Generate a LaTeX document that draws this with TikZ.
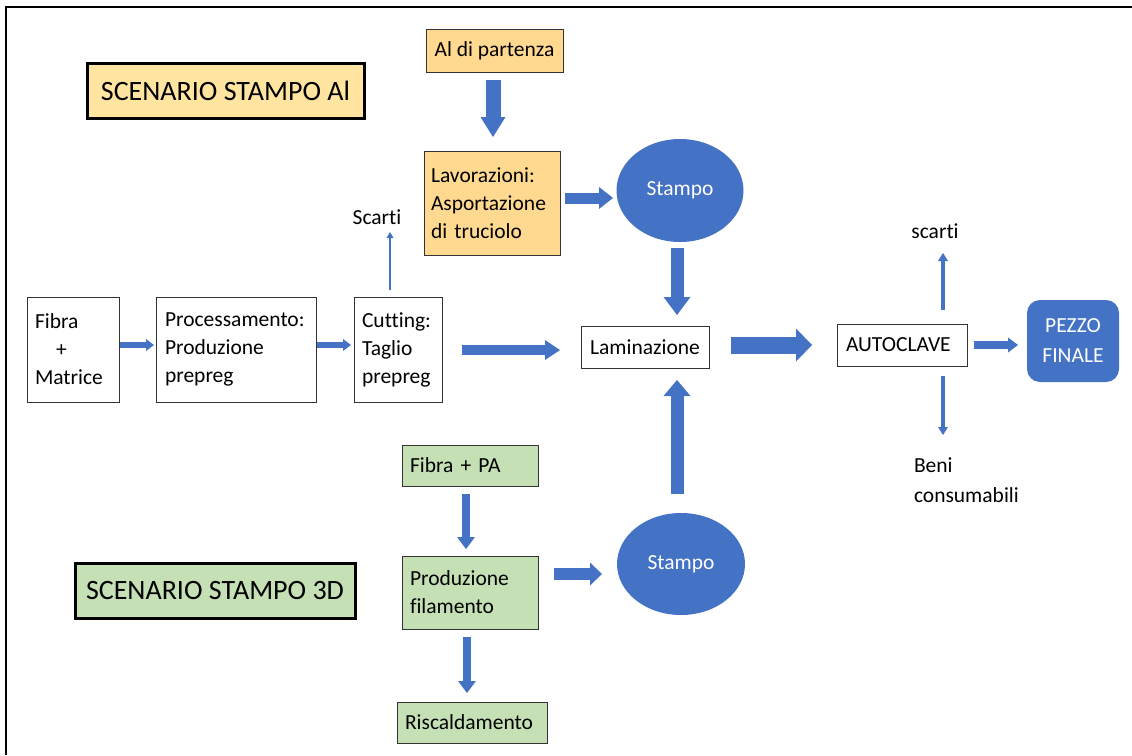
\documentclass[tikz,border=0pt]{standalone}
\usepackage{fontspec}
\setmainfont{Carlito}[Ligatures=NoCommon]
\usetikzlibrary{arrows.meta,shapes.geometric}
\definecolor{blu}{HTML}{4472C4}
\definecolor{orA}{HTML}{FFD98F}
\definecolor{orB}{HTML}{FFE5A0}
\definecolor{grn}{HTML}{C5E0B4}
\begin{document}
\begin{tikzpicture}[x=1pt,y=-1pt,
  base/.style={font=\fontsize{21.5}{28}\selectfont, inner sep=0pt, outer sep=0pt},
  lbox/.style={base, draw=black!80, line width=1pt, align=left, inner xsep=8pt},
  cbox/.style={base, draw=black!80, line width=1pt, align=center},
  scen/.style={font=\fontsize{28}{32}\selectfont, draw=black, line width=3pt, inner sep=0pt, minimum width=277pt, minimum height=55pt},
  blob/.style={base, ellipse, fill=blu, text=white, minimum width=127pt, minimum height=103pt},
  barr/.style n args={3}{draw=blu, line width=#1, -{Triangle[width=#2, length=#3, line width=0pt]}}
]
\useasboundingbox (0,0) rectangle (1132,755);
\fill[white] (0,0) rectangle (1132,755);
\draw[line width=2pt] (6,755) -- (6,7) -- (1132,7);

% titles
\node[scen, fill=orB] (scenAl) at (225.5,90.5) {SCENARIO STAMPO Al};
\node[scen, fill=grn, minimum width=280pt] (scen3D) at (215,590.5) {SCENARIO STAMPO 3D};

% Al scenario
\node[cbox, fill=orA, minimum width=137pt, minimum height=43pt] (alpart) at (494.5,50.5) {Al di partenza};
\node[lbox, fill=orA, text width=122pt, minimum height=104pt, inner xsep=7pt] (lav) at (492,203) {Lavorazioni:\\Asportazione\\di truciolo};
\node[blob] (stampo1) at (680,190.5) {\raisebox{-3pt}{Stampo}};

% main line
\node[lbox, text width=76pt, minimum height=105pt] (fibra) at (73,349.5) {Fibra\\\hspace*{21pt}+\\Matrice};
\node[lbox, text width=142pt, minimum height=105pt, inner xsep=9pt] (proc) at (236,349.5) {Processamento:\\Produzione\\prepreg};
\node[lbox, text width=72pt, minimum height=105pt] (cut) at (398,349.5) {Cutting:\\Taglio\\prepreg};
\node[base] (scarti1) at (377,217) {Scarti};
\node[cbox, minimum width=128pt, minimum height=42pt] (lam) at (645,347) {Laminazione};
\node[lbox, text width=112pt, minimum height=42pt, inner xsep=9pt] (auto) at (902,345) {AUTOCLAVE};
\node[base, fill=blu, text=white, rounded corners=13pt, align=center, font=\fontsize{21.5}{30}\selectfont, minimum width=92pt, minimum height=82pt] (pezzo) at (1073,341) {PEZZO\\FINALE};
\node[base] (scarti2) at (935,231) {scarti};
\node[base, align=left, anchor=west, font=\fontsize{21.5}{30}\selectfont] (beni) at (914,480) {Beni\\consumabili};

% 3D scenario
\node[lbox, fill=grn, text width=120pt, minimum height=41pt] (fpa) at (470,465.5) {Fibra + PA};
\node[lbox, fill=grn, text width=120pt, minimum height=73pt] (prodfil) at (470,592.5) {Produzione\\filamento};
\node[lbox, fill=grn, text width=134pt, minimum height=41pt] (risc) at (472,722.5) {Riscaldamento};
\node[blob, minimum width=128pt, minimum height=102pt] (stampo2) at (681,564) {Stampo};

% arrows
\draw[barr={15pt}{25pt}{20pt}] ([xshift=-1.5pt,yshift=-8pt]alpart.south) -- ([xshift=1pt,yshift=14pt]lav.north);
\draw[barr={11pt}{22pt}{14pt}] ([xshift=5pt,yshift=5pt]lav.east) -- ([xshift=-3.5pt,yshift=-7.5pt]stampo1.west);
\draw[barr={13pt}{27pt}{18pt}] ([xshift=-3pt,yshift=-6pt]stampo1.south) -- ([xshift=32pt,yshift=11pt]lam.north);
\draw[barr={6pt}{12pt}{8pt}] ([xshift=1pt,yshift=4.5pt]fibra.east) -- ([xshift=-2pt,yshift=4.5pt]proc.west);
\draw[barr={6pt}{12pt}{8pt}] ([xshift=1pt,yshift=4.5pt]proc.east) -- ([xshift=-3pt,yshift=4.5pt]cut.west);
\draw[barr={2.5pt}{7pt}{6pt}] ([xshift=-8pt,yshift=7pt]cut.north) -- ([xshift=13pt,yshift=-15pt]scarti1.center);
\draw[barr={10pt}{20pt}{15pt}] ([xshift=20pt,yshift=-0.5pt]cut.east) -- ([xshift=-21pt,yshift=-3pt]lam.west);
\draw[barr={17pt}{33pt}{16pt}] ([xshift=22pt,yshift=2pt]lam.east) -- ([xshift=-25pt]auto.west);
\draw[barr={8pt}{15pt}{10pt}] ([xshift=7pt]auto.east) -- ([xshift=-9pt,yshift=-4pt]pezzo.west);
\draw[barr={4.5pt}{10pt}{8pt}] ([xshift=41pt,yshift=14pt]auto.north) -- ([xshift=8pt,yshift=-22pt]scarti2.center);
\draw[barr={4.5pt}{10pt}{8pt}] ([xshift=41pt,yshift=-10pt]auto.south) -- ([xshift=29pt,yshift=45pt]beni.west);
\draw[barr={13pt}{27pt}{16pt}] ([xshift=-4pt,yshift=19pt]stampo2.north) -- ([xshift=32pt,yshift=-12pt]lam.south);
\draw[barr={8pt}{18pt}{12pt}] ([xshift=-4pt,yshift=-8pt]fpa.south) -- ([xshift=-4pt,yshift=7pt]prodfil.north);
\draw[barr={12pt}{23pt}{12pt}] ([xshift=16pt,yshift=18.5pt]prodfil.east) -- ([xshift=-15pt,yshift=-10pt]stampo2.west);
\draw[barr={8pt}{18pt}{12pt}] ([xshift=-3pt,yshift=-8pt]prodfil.south) -- ([xshift=-5pt,yshift=9pt]risc.north);
\end{tikzpicture}
\end{document}
